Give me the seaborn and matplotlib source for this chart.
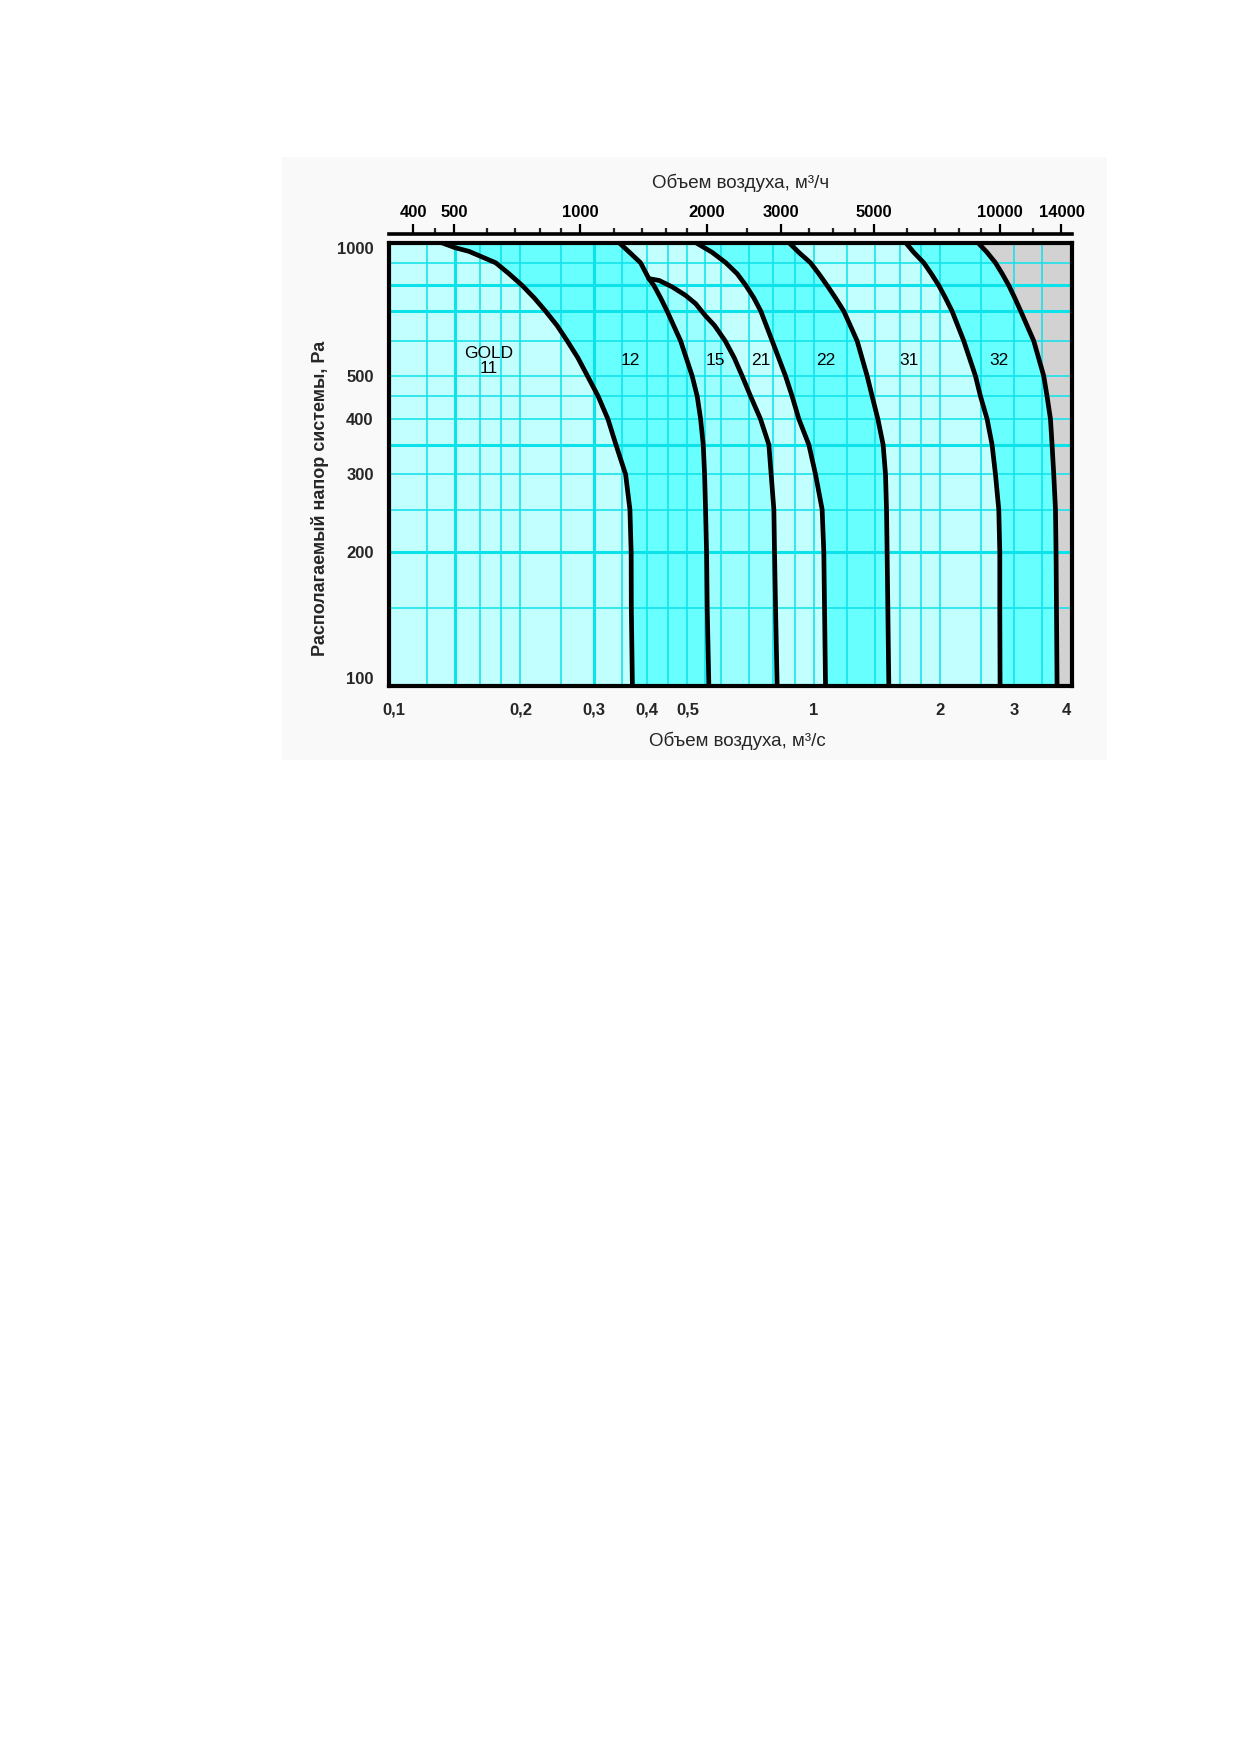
import numpy as np
import pandas as pd
import matplotlib
matplotlib.use("Agg")
import matplotlib.pyplot as plt
import matplotlib.transforms as mtransforms
from matplotlib.patches import Rectangle
from matplotlib.ticker import NullLocator, NullFormatter
import seaborn as sns

# ---------------- data ----------------
# flow in m3/s, available pressure in Pa
pres_11 = [1000, 973, 955, 900, 850, 800, 750, 700, 650, 600, 550, 500, 450, 400,
           350, 300, 250, 200, 150, 100]
flow_11 = [0.1294, 0.1400, 0.1509, 0.1747, 0.1880, 0.2020, 0.2158, 0.2297, 0.2445,
           0.2586, 0.2740, 0.2890, 0.3064, 0.3232, 0.3378, 0.3562, 0.3647, 0.3672,
           0.3675, 0.3697]

pres_12 = [1000, 950, 900, 829, 800, 750, 700, 600, 500, 450, 400, 350, 300, 250,
           200, 150, 100]
flow_12 = [0.3433, 0.3640, 0.3867, 0.4046, 0.4159, 0.4316, 0.4473, 0.4816, 0.5131,
           0.5275, 0.5374, 0.5452, 0.5493, 0.5522, 0.5553, 0.5572, 0.5623]

pres_15 = [829, 821, 794, 760, 728, 683, 650, 600, 550, 500, 450, 400, 350, 300,
           250, 200, 150, 100]
flow_15 = [0.4046, 0.4283, 0.4600, 0.4948, 0.5228, 0.5523, 0.5800, 0.6150, 0.6460,
           0.6750, 0.7070, 0.7463, 0.7815, 0.7913, 0.8031, 0.8061, 0.8106, 0.8177]

pres_21 = [1000, 950, 900, 850, 800, 750, 700, 600, 500, 450, 400, 350, 300, 250,
           200, 150, 100]
flow_21 = [0.5228, 0.5727, 0.6172, 0.6570, 0.6889, 0.7197, 0.7477, 0.7958, 0.8561,
           0.8878, 0.9210, 0.9730, 1.0093, 1.0466, 1.0563, 1.0604, 1.0662]

pres_22 = [1000, 950, 900, 850, 800, 750, 700, 600, 500, 450, 400, 350, 300, 250,
           200, 150, 100]
flow_22 = [0.8718, 0.9210, 0.9821, 1.0280, 1.0757, 1.1260, 1.1788, 1.2680, 1.3397,
           1.3769, 1.4207, 1.4623, 1.4816, 1.4898, 1.4946, 1.5005, 1.5087]

pres_31 = [1000, 950, 900, 850, 800, 750, 700, 600, 500, 450, 400, 350, 300, 250,
           200, 150, 100]
flow_31 = [1.6533, 1.7302, 1.8276, 1.9050, 1.9844, 2.0580, 2.1345, 2.2756, 2.4266,
           2.4941, 2.5858, 2.6578, 2.7077, 2.7574, 2.7727, 2.7727, 2.7770]

pres_32 = [1000, 950, 900, 850, 800, 750, 700, 600, 500, 450, 400, 350, 300, 250,
           200, 150, 100]
flow_32 = [2.4574, 2.5858, 2.7077, 2.8100, 2.9130, 3.0100, 3.1103, 3.3403, 3.5283,
           3.5934, 3.6610, 3.6933, 3.7275, 3.7628, 3.7750, 3.7837, 3.7960]

band_names = ["GOLD\n11", "12", "15", "21", "22", "31", "32"]
band_label_flow = [0.168, 0.366, 0.583, 0.7465, 1.066, 1.684, 2.757]
band_label_pres = [540, 541, 541, 541, 541, 541, 541]

x_ticks = [0.1, 0.2, 0.3, 0.4, 0.5, 1, 2, 3, 4]
x_tick_labels = ["0,1", "0,2", "0,3", "0,4", "0,5", "1", "2", "3", "4"]
y_ticks = [100, 200, 300, 400, 500, 1000]
y_tick_labels = ["100", "200", "300", "400", "500", "1000"]
top_ticks = [400, 500, 1000, 2000, 3000, 5000, 10000, 14000]
top_minor_ticks = [450, 600, 700, 800, 900, 1200, 1400, 1600, 1800, 2500, 3500,
                   4000, 4500, 6000, 7000, 8000, 9000, 12000]

grid_x = [0.12, 0.14, 0.16, 0.18, 0.2, 0.25, 0.3, 0.35, 0.4, 0.45, 0.5, 0.55, 0.6,
          0.7, 0.8, 0.9, 1.0, 1.2, 1.4, 1.6, 1.8, 2.0, 2.5, 3.0, 3.5]
grid_x_thick = [0.14, 0.3]
grid_y = [150, 200, 250, 300, 350, 400, 450, 500, 600, 700, 800, 900]
grid_y_thick = [200, 350, 700, 800]

# ---------------- styling ----------------
sns.set_style("white")
plt.rcParams["font.family"] = ["Liberation Sans", "DejaVu Sans"]

C_LIGHT = "#c2ffff"
C_MED = "#9cffff"
C_BRIGHT = "#68ffff"
C_GREY = "#d2d2d2"
C_GRID = "#0ce2ea"

W, H = 1239, 1754
fig = plt.figure(figsize=(W / 100, H / 100), dpi=100)
fig.patch.set_facecolor("white")
fig.patches.append(Rectangle((282 / W, 1 - 760 / H), (1107 - 282) / W, (760 - 157) / H,
                             transform=fig.transFigure, facecolor="#f9f9f9",
                             edgecolor="none", zorder=-10))

L, R, T, B = 389, 1072, 242.5, 686
ax = fig.add_axes([L / W, 1 - B / H, (R - L) / W, (B - T) / H])
ax.set_zorder(1)
ax.set_xscale("log")
ax.set_yscale("log")
ax.set_xlim(0.0973, 4.12)
ax.set_ylim(100, 1000)
ax.set_facecolor(C_LIGHT)
xmax = ax.get_xlim()[1]

f11, f12, f15 = np.array(flow_11), np.array(flow_12), np.array(flow_15)
f21, f22, f31, f32 = map(np.array, (flow_21, flow_22, flow_31, flow_32))
p11, p12, p15 = np.array(pres_11), np.array(pres_12), np.array(pres_15)
p21, p22, p31, p32 = map(np.array, (pres_21, pres_22, pres_31, pres_32))

# bands between curves
ax.fill(np.concatenate([f11, f12[::-1]]), np.concatenate([p11, p12[::-1]]),
        color=C_BRIGHT, lw=0, zorder=1)
m = p12 <= 829
ax.fill(np.concatenate([f15, f12[m][::-1]]), np.concatenate([p15, p12[m][::-1]]),
        color=C_MED, lw=0, zorder=1)
ax.fill(np.concatenate([f21, f22[::-1]]), np.concatenate([p21, p22[::-1]]),
        color=C_BRIGHT, lw=0, zorder=1)
ax.fill(np.concatenate([f31, f32[::-1]]), np.concatenate([p31, p32[::-1]]),
        color=C_BRIGHT, lw=0, zorder=1)
ax.fill_betweenx(p32, f32, xmax, color=C_GREY, lw=0, zorder=1)

# grid
for gx in grid_x:
    ax.axvline(gx, color=C_GRID, lw=2.2 if gx in grid_x_thick else 1.1, zorder=2)
for gy in grid_y:
    ax.axhline(gy, color=C_GRID, lw=2.2 if gy in grid_y_thick else 1.1, zorder=2)

# curves
frames = []
for name, f, p in [("11", f11, p11), ("12", f12, p12), ("15", f15, p15),
                   ("21", f21, p21), ("22", f22, p22), ("31", f31, p31), ("32", f32, p32)]:
    frames.append(pd.DataFrame({"flow": f, "pressure": p, "curve": name}))
df = pd.concat(frames, ignore_index=True)
sns.lineplot(data=df, x="flow", y="pressure", units="curve", estimator=None, sort=False,
             color="black", lw=3.4, ax=ax, zorder=3, legend=False)
for line in ax.lines[-7:]:
    line.set_solid_joinstyle("round")

for txt, fx, py in zip(band_names, band_label_flow, band_label_pres):
    ax.text(fx, py, txt, ha="center", va="center", fontsize=12.5, color="black",
            linespacing=1.0, zorder=4)

# axes / ticks
for s in ax.spines.values():
    s.set_visible(True)
    s.set_color("black")
    s.set_linewidth(3)
    s.set_zorder(5)

ax.set_xticks(x_ticks, labels=x_tick_labels)
ax.set_yticks(y_ticks, labels=y_tick_labels)
ax.xaxis.set_minor_locator(NullLocator())
ax.yaxis.set_minor_locator(NullLocator())
ax.tick_params(axis="both", which="both", length=0)
ax.tick_params(axis="x", pad=12, labelsize=12)
ax.tick_params(axis="y", pad=11, labelsize=12)
for lab in ax.get_xticklabels() + ax.get_yticklabels():
    lab.set_fontweight("bold")
ax.set_xlabel("")
ax.set_ylabel("")

# nudge end labels of the pressure axis as in the reference
for lab in ax.get_yticklabels():
    if lab.get_text() == "100":
        lab.set_transform(lab.get_transform() + mtransforms.ScaledTranslation(0, 0.08, fig.dpi_scale_trans))
    if lab.get_text() == "1000":
        lab.set_transform(lab.get_transform() + mtransforms.ScaledTranslation(0, -0.05, fig.dpi_scale_trans))

# secondary (m3/h) axis on top
secax = ax.secondary_xaxis(1.02, functions=(lambda q: q * 3600.0, lambda h: h / 3600.0))
secax.set_xticks(top_ticks, labels=[str(t) for t in top_ticks])
secax.set_xticks(top_minor_ticks, minor=True)
secax.xaxis.set_minor_formatter(NullFormatter())
secax.spines["top"].set_linewidth(2.6)
secax.spines["top"].set_color("black")
secax.tick_params(which="major", direction="out", length=7, width=1.6, pad=3,
                  labelsize=12, colors="black")
secax.tick_params(which="minor", direction="out", length=4, width=1.6)
for lab in secax.get_xticklabels():
    lab.set_fontweight("bold")

# titles
ax.text((741 - L) / (R - L), (B - 183) / (B - T), "Объем воздуха, м³/ч",
        transform=ax.transAxes, ha="center", va="center", fontsize=13.5)
ax.text((737 - L) / (R - L), (B - 741) / (B - T), "Объем воздуха, м³/с",
        transform=ax.transAxes, ha="center", va="center", fontsize=13.5)
ax.text((320 - L) / (R - L), (B - 498) / (B - T), "Располагаемый напор системы, Ра",
        transform=ax.transAxes, ha="center", va="center", rotation=90,
        fontsize=13, fontweight="bold")

fig.savefig("out.png", dpi=100)
